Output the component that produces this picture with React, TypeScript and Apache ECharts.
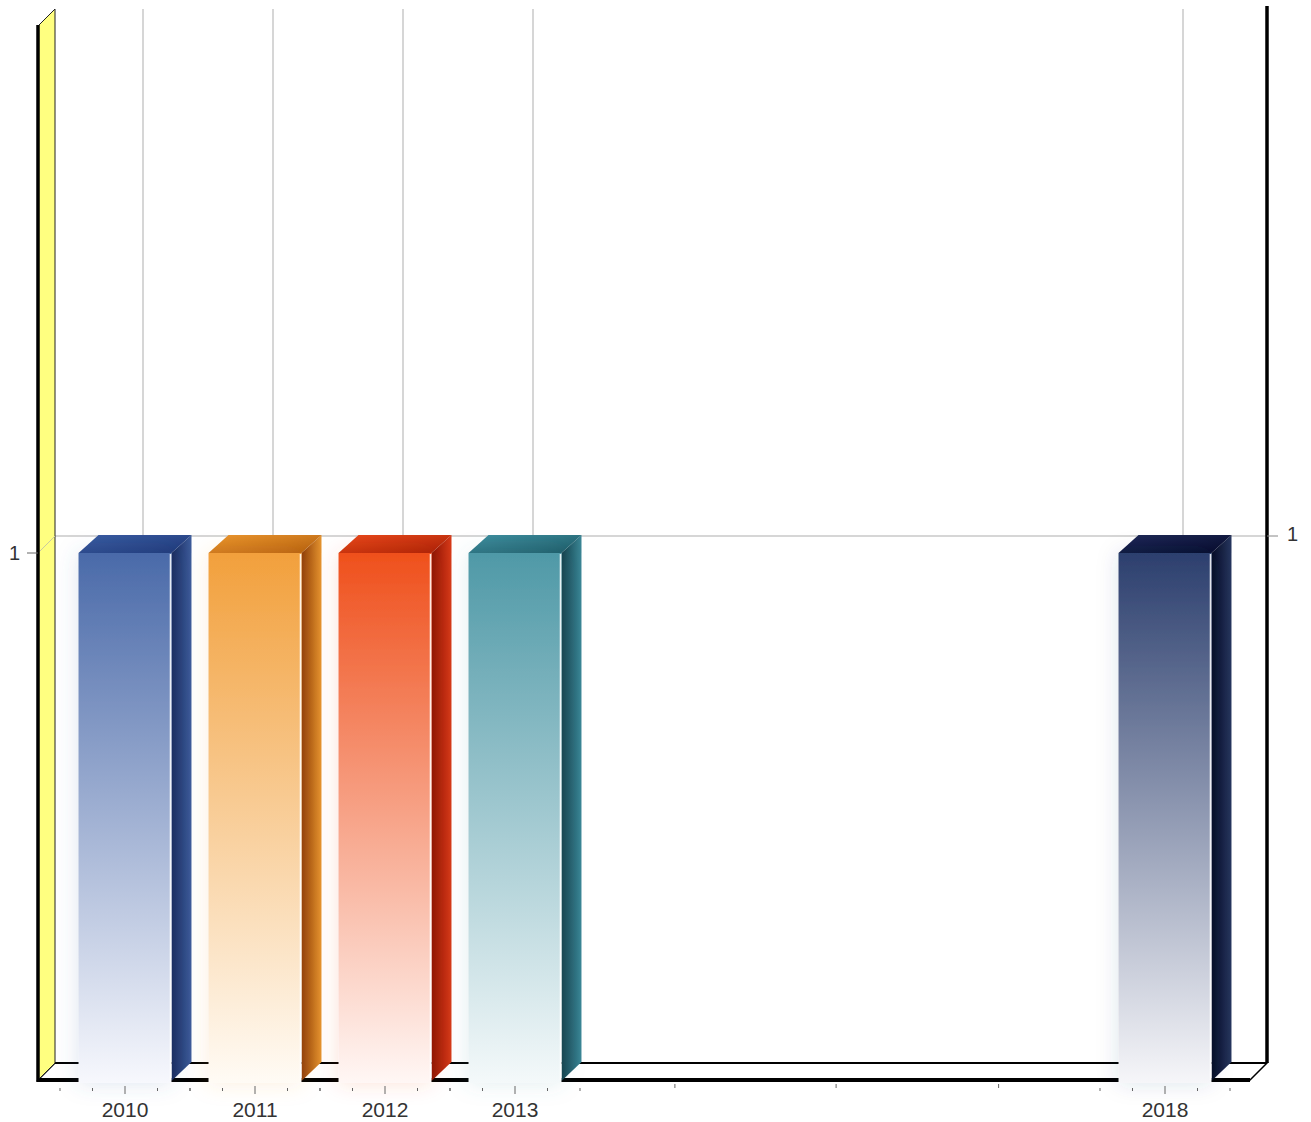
import React, { useEffect, useRef } from 'react';
import * as echarts from 'echarts';

const categories = ['2010', '2011', '2012', '2013', '2014', '2015', '2016', '2017', '2018'];
const values: (number | null)[] = [1, 1, 1, 1, null, null, null, null, 1];
const yTickLabels = [1];
const extraTickPositions = [4.23, 5.47, 6.72];

type Pal = { front: string; fade: string; sideDark: string; sideLight: string; topLight: string; topDark: string; glow: string };
const palette: (Pal | null)[] = [
  { front: '#4a6aa9', fade: '#f7f8fd', sideDark: '#17285a', sideLight: '#3d5c9c', topLight: '#3a5ca2', topDark: '#1d3676', glow: 'rgba(74,106,169,0.18)' },
  { front: '#f2a03c', fade: '#fffbf5', sideDark: '#8a3806', sideLight: '#e6952f', topLight: '#eb962e', topDark: '#b15c0c', glow: 'rgba(242,160,60,0.18)' },
  { front: '#ef501c', fade: '#fff7f5', sideDark: '#881202', sideLight: '#d83a18', topLight: '#ea4a1a', topDark: '#a61e06', glow: 'rgba(239,80,28,0.16)' },
  { front: '#4f99a7', fade: '#f4f9fa', sideDark: '#123d48', sideLight: '#3b8797', topLight: '#3f8fa0', topDark: '#1b5864', glow: 'rgba(79,153,167,0.18)' },
  null, null, null, null,
  { front: '#2c3f6e', fade: '#f6f6f9', sideDark: '#050a22', sideLight: '#26365f', topLight: '#1e2958', topDark: '#060a2a', glow: 'rgba(44,63,110,0.14)' },
];

const WDX = 17, WDY = -17; // wall depth
const BDX = 20, BDY = -18; // bar depth
const FONT = '"Liberation Sans", Arial, sans-serif';

export default function App() {
  const ref = useRef<HTMLDivElement>(null);
  useEffect(() => {
    if (!ref.current) return;
    const chart = echarts.init(ref.current, null, { renderer: 'svg' });
    const barData = values
      .map((v, i) => (v == null ? null : [i, v]))
      .filter((d) => d != null) as number[][];
    const dataIdx = barData.map((d) => d[0]);

    const frameSeries = {
      type: 'custom',
      z: 1,
      silent: true,
      clip: false,
      data: [[0, 0]],
      renderItem: (params: any, api: any) => {
        const cs = params.coordSys;
        const L = cs.x - 22;
        const R = cs.x + cs.width + 20;
        const T = cs.y;
        const B = cs.y + cs.height;
        const children: any[] = [];
        const y1 = api.coord([0, yTickLabels[0]])[1];
        dataIdx.forEach((i) => {
          const cx = api.coord([i, 0])[0] + 18;
          children.push({ type: 'line', shape: { x1: cx, y1: T + WDY, x2: cx, y2: B + WDY }, style: { stroke: '#c9c9c9', lineWidth: 1.5 } });
        });
        children.push({ type: 'line', shape: { x1: L + WDX, y1: y1 + WDY, x2: R + WDX, y2: y1 + WDY }, style: { stroke: '#c9c9c9', lineWidth: 1.5 } });
        children.push({ type: 'polygon', shape: { points: [[L, B], [R, B], [R + WDX, B + WDY], [L + WDX, B + WDY]] }, style: { fill: '#ffffff', stroke: '#000', lineWidth: 1.5 } });
        children.push({ type: 'line', shape: { x1: L + WDX, y1: B + WDY, x2: R + WDX, y2: B + WDY }, style: { stroke: '#000', lineWidth: 2 } });
        children.push({ type: 'line', shape: { x1: L, y1: B, x2: R, y2: B }, style: { stroke: '#000', lineWidth: 4 } });
        children.push({ type: 'polygon', shape: { points: [[L, B], [L, T], [L + WDX, T + WDY], [L + WDX, B + WDY]] }, style: { fill: '#ffff80', stroke: '#222', lineWidth: 1 } });
        children.push({ type: 'line', shape: { x1: L, y1: y1, x2: L + WDX, y2: y1 + WDY }, style: { stroke: '#c9c9a0', lineWidth: 1 } });
        children.push({ type: 'line', shape: { x1: L, y1: T - 1, x2: L, y2: B + 2 }, style: { stroke: '#000', lineWidth: 3.5 } });
        children.push({ type: 'line', shape: { x1: R + WDX, y1: T + WDY - 3, x2: R + WDX, y2: B + WDY }, style: { stroke: '#000', lineWidth: 3.5 } });
        children.push({ type: 'line', shape: { x1: L - 11, y1: y1, x2: L, y2: y1 }, style: { stroke: '#666', lineWidth: 1 } });
        children.push({ type: 'line', shape: { x1: R + WDX, y1: y1 + WDY, x2: R + WDX + 11, y2: y1 + WDY }, style: { stroke: '#888', lineWidth: 1 } });
        children.push({ type: 'text', style: { text: String(yTickLabels[0]), x: R + WDX + 20, y: y1 + WDY - 2, fill: '#333', font: '20px ' + FONT, textAlign: 'left', verticalAlign: 'middle' } });
        return { type: 'group', children };
      },
    };

    const barSeries = {
      type: 'custom',
      z: 2,
      clip: false,
      encode: { x: 0, y: 1 },
      data: barData,
      renderItem: (params: any, api: any) => {
        const idx = api.value(0) as number;
        const v = api.value(1) as number;
        const top = api.coord([idx, v]);
        const base = api.coord([idx, 0]);
        const bw = api.size([1, 0])[0] * 0.715;
        const x0 = top[0] - bw / 2;
        const x1 = top[0] + bw / 2;
        const yT = top[1];
        const yB = base[1];
        const c = palette[idx] as Pal;
        return {
          type: 'group',
          children: [
            {
              type: 'polygon',
              shape: { points: [[x1, yT], [x1 + BDX, yT + BDY], [x1 + BDX, yB + BDY], [x1, yB + 1]] },
              style: { fill: new echarts.graphic.LinearGradient(0, 0, 1, 0, [{ offset: 0, color: c.sideDark }, { offset: 1, color: c.sideLight }]) },
            },
            {
              type: 'polygon',
              shape: { points: [[x0, yT], [x0 + BDX, yT + BDY], [x1 + BDX, yT + BDY], [x1, yT]] },
              style: { fill: new echarts.graphic.LinearGradient(0, 0, 1, 1, [{ offset: 0, color: c.topLight }, { offset: 1, color: c.topDark }]) },
            },
            {
              type: 'rect',
              shape: { x: x0, y: yT, width: bw, height: yB - yT + 3 },
              style: {
                fill: new echarts.graphic.LinearGradient(0, 0, 0, 1, [{ offset: 0, color: c.front }, { offset: 1, color: c.fade }]),
                shadowBlur: 22,
                shadowColor: c.glow,
              },
            },
            { type: 'line', shape: { x1: x1 - 1, y1: yT + 1, x2: x1 - 1, y2: yB }, style: { stroke: 'rgba(255,255,255,0.85)', lineWidth: 1.5 } },
          ],
        };
      },
    };

    const tickSeries = {
      type: 'custom',
      z: 3,
      silent: true,
      clip: false,
      data: [[0, 0]],
      renderItem: (params: any, api: any) => {
        const cs = params.coordSys;
        const B = cs.y + cs.height;
        const band = api.size([1, 0])[0];
        const children: any[] = [];
        dataIdx.forEach((i) => {
          const cx = api.coord([i, 0])[0];
          [-0.5, -0.25, 0, 0.25, 0.5].forEach((o) => {
            const major = o === 0;
            const x = cx + o * band;
            children.push({ type: 'line', shape: { x1: x, y1: B + (major ? 6 : 8), x2: x, y2: B + (major ? 14 : 11) }, style: { stroke: '#666', lineWidth: 1 } });
          });
        });
        extraTickPositions.forEach((p) => {
          const base = Math.floor(p);
          const x = api.coord([base, 0])[0] + (p - base) * band;
          children.push({ type: 'line', shape: { x1: x, y1: B + 4, x2: x, y2: B + 8 }, style: { stroke: '#666', lineWidth: 1 } });
        });
        return { type: 'group', children };
      },
    };

    chart.setOption({
      animation: false,
      backgroundColor: '#ffffff',
      grid: { left: 60, right: 81, top: 26, bottom: 42, containLabel: false },
      xAxis: {
        type: 'category',
        data: categories,
        axisLine: { show: false },
        axisTick: { show: false },
        splitLine: { show: false },
        axisLabel: {
          interval: 0,
          margin: 19,
          color: '#333',
          fontSize: 21,
          fontFamily: FONT,
          formatter: (val: string, i: number) => (values[i] == null ? '' : val),
        },
      },
      yAxis: {
        type: 'value',
        min: 0,
        max: 2,
        interval: 1,
        axisLine: { show: false },
        axisTick: { show: false },
        splitLine: { show: false },
        axisLabel: {
          margin: 40,
          color: '#333',
          fontSize: 20,
          fontFamily: FONT,
          formatter: (v: number) => (yTickLabels.includes(v) ? String(v) : ''),
        },
      },
      series: [frameSeries, barSeries, tickSeries],
    });
    return () => chart.dispose();
  }, []);
  return <div ref={ref} style={{ position: 'absolute', left: 0, top: 0, width: 1311, height: 1122 }} />;
}
